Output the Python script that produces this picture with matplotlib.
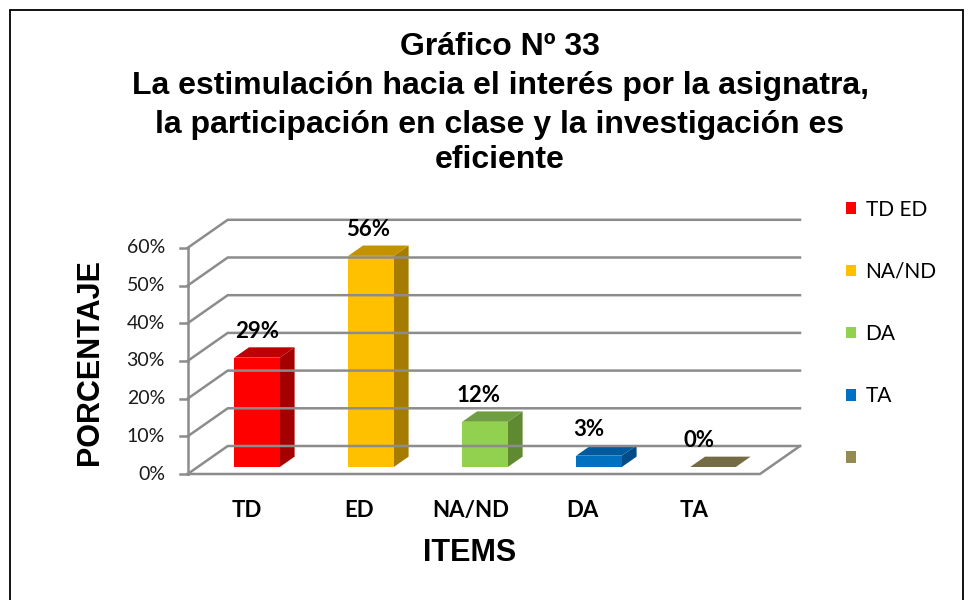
import matplotlib
matplotlib.use("Agg")
import matplotlib.pyplot as plt
from matplotlib.patches import Polygon, Rectangle, Patch

# datos del grafico
categorias = ['TD', 'ED', 'NA/ND', 'DA', 'TA']
porcentajes = [29, 56, 12, 3, 0]
leyenda = ['TD ED', 'NA/ND', 'DA', 'TA', '']
ticks_y = [0, 10, 20, 30, 40, 50, 60]

color_frente = ['#FF0000', '#FFC000', '#92D050', '#0070C0', '#948A54']
color_lado = ['#A50000', '#A67C00', '#5F8A32', '#004C86', '#5E5736']
color_tope = ['#C00000', '#C39200', '#6F9E3F', '#005A9E', '#756C45']

W, H = 973, 600
fig = plt.figure(figsize=(W / 100, H / 100), dpi=100)

# ejes en el plano frontal: x = categoria, y = porcentaje
PX_CAT = 114.0     # pixeles por categoria
PX_PCT = 3.77      # pixeles por 1 %
X0, Y0 = 247.0, 474.0   # pixel de (0, 0%) en el plano frontal
izq, der, arr, aba = 160, 820, 190, 490
ax = fig.add_axes([izq / W, 1 - aba / H, (der - izq) / W, (aba - arr) / H])
ax.set_xlim((izq - X0) / PX_CAT, (der - X0) / PX_CAT)
ax.set_ylim((Y0 - aba) / PX_PCT, (Y0 - arr) / PX_PCT)
ax.axis('off')

# profundidad: d=0 frente, d=1 fondo
KX = 40.0 / PX_CAT
KY = 28.0 / PX_PCT


def p(x, v, d):
    return (x + d * KX, v + d * KY)


gris = '#8C8C8C'
x_ini, x_fin = -0.52, 4.5
n = len(categorias)

# paredes y piso
for v in ticks_y:
    ax.plot(*zip(p(x_ini, v, 0), p(x_ini, v, 1), p(x_fin, v, 1)),
            color=gris, lw=1.8, clip_on=False, solid_joinstyle='miter')
ax.plot(*zip(p(x_ini, 0, 0), p(x_fin, 0, 0), p(x_fin, 0, 1)),
        color=gris, lw=1.8, clip_on=False)
ax.plot(*zip(p(x_ini, 0, 0), p(x_ini, ticks_y[-1], 0)),
        color=gris, lw=1.8, clip_on=False)
for v in ticks_y:
    ax.plot(*zip(p(x_ini - 0.07, v, 0), p(x_ini, v, 0)),
            color=gris, lw=1.8, clip_on=False)
    ax.text(*p(x_ini - 0.2, v, 0), f'{v}%', ha='right', va='center',
            fontsize=14, family='Lato', color='#1A1A1A')

# barras 3D
mw = 0.2
d0, d1 = 0.25, 0.62
for i, v in enumerate(porcentajes):
    frente = [p(i - mw, 0, d0), p(i + mw, 0, d0), p(i + mw, v, d0), p(i - mw, v, d0)]
    lado = [p(i + mw, 0, d0), p(i + mw, 0, d1), p(i + mw, v, d1), p(i + mw, v, d0)]
    tope = [p(i - mw, v, d0), p(i + mw, v, d0), p(i + mw, v, d1), p(i - mw, v, d1)]
    ax.add_patch(Polygon(lado, closed=True, fc=color_lado[i], ec='none', clip_on=False))
    ax.add_patch(Polygon(frente, closed=True, fc=color_frente[i], ec='none', clip_on=False))
    ax.add_patch(Polygon(tope, closed=True, fc=color_tope[i], ec='none', clip_on=False))
    # etiquetas algo corridas a la izquierda por la perspectiva
    ax.text(*p(i * 0.97, v + 6.9, d0), f'{v}%', ha='center', va='center',
            fontsize=16, fontweight='bold', family='Lato')
    cx, cy = p(i * 0.98, 0, 0)
    ax.text(cx, cy - 9.6, categorias[i], ha='center', va='center', fontsize=16,
            fontweight='bold', family='Lato')

# titulos
titulo = ['Gráfico Nº 33',
          'La estimulación hacia el interés por la asignatra,',
          'la participación en clase y la investigación es',
          'eficiente']
for linea, yy in zip(titulo, [47, 86, 125, 160]):
    fig.text(500 / W, 1 - yy / H, linea, ha='center', va='center',
             fontsize=23, fontweight='bold', family='Liberation Sans')

fig.text(90 / W, 1 - 362 / H, 'PORCENTAJE', rotation=90, ha='center', va='center',
         fontsize=22, fontweight='bold', family='Liberation Sans')
fig.text(470 / W, 1 - 553 / H, 'ITEMS', ha='center', va='center',
         fontsize=22, fontweight='bold', family='Liberation Sans')

# leyenda
handles = [Patch(fc=c, ec='none') for c in color_frente]
fig.legend(handles, leyenda, loc='upper left', bbox_to_anchor=(827 / W, 1 - 181 / H),
           frameon=False, prop={'family': 'Lato', 'size': 15}, labelspacing=2.02,
           handlelength=0.5, handleheight=0.5, handletextpad=0.45)

# marco
fig.patches.append(Rectangle((10 / W, -0.05), 953 / W, 1 - 10 / H + 0.05,
                             transform=fig.transFigure, fill=False, ec='black', lw=1.3))

fig.savefig('out.png', dpi=100)
